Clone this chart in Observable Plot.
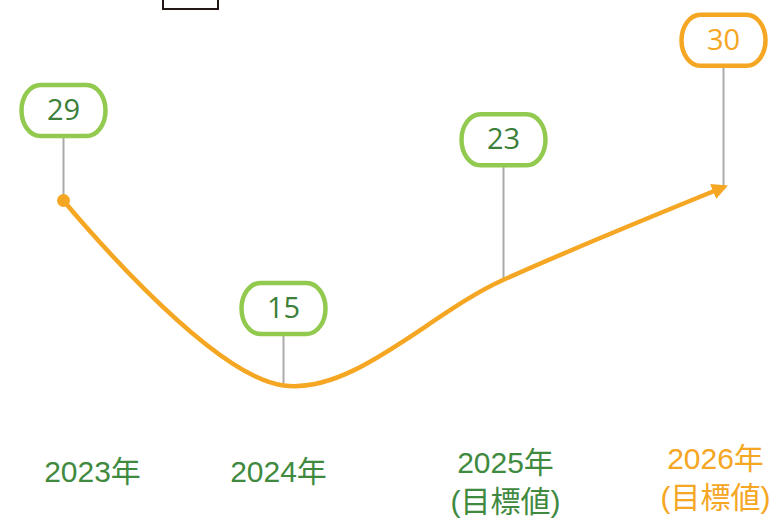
<!DOCTYPE html>
<html>
<head>
<meta charset="utf-8">
<script src="https://cdn.jsdelivr.net/npm/d3@7"></script>
<script src="https://cdn.jsdelivr.net/npm/@observablehq/plot@0.6"></script>
<style>
  html, body { margin: 0; padding: 0; background: #ffffff; }
  #wrap { position: relative; width: 779px; height: 518px; overflow: hidden; }
  #topbox { position: absolute; left: 162px; top: -22px; width: 53px; height: 28px; border: 2px solid #231815; }
</style>
</head>
<body>
<div id="wrap"><div id="topbox"></div></div>
<script>
// ---- data ----
const years = ["2023", "2024", "2025", "2026"];
const values = [29, 15, 23, 30];
const tickLine1 = ["2023年", "2024年", "2025年", "2026年"];
const tickLine2 = ["", "", "(目標値)", "(目標値)"];

// ---- layout / style config ----
const GREEN_BOX = "#92C94F";
const GREEN_TEXT = "#3B7F38";
const GREEN_TICK = "#3F8A3F";
const ORANGE = "#F5A623";
const GRAY = "#ABABAB";
const pxPerUnit = 13.214;
const yAt29 = 200;
const labelLiftPx = [90, 77, 140, 147];
const tickDx = [29, -5, 2, -8];
const tickDy = [469, 469, 480, 476];
const boxStroke = [GREEN_BOX, GREEN_BOX, GREEN_BOX, ORANGE];
const boxText = [GREEN_TEXT, GREEN_TEXT, GREEN_TEXT, ORANGE];
const tickColor = [GREEN_TICK, GREEN_TICK, GREEN_TICK, ORANGE];

const data = years.map((year, i) => ({
  year,
  value: values[i],
  labelY: values[i] + labelLiftPx[i] / pxPerUnit,
  i
}));

const yPx = v => yAt29 + (29 - v) * pxPerUnit;

// rounded "pill" box symbol with elliptical sides
const pill = {
  draw(context) {
    const hw = 42, hh = 25.5, rx = 19, k = 0.5523;
    context.moveTo(-hw + rx, -hh);
    context.lineTo(hw - rx, -hh);
    context.bezierCurveTo(hw - rx + rx * k, -hh, hw, -hh * k, hw, 0);
    context.bezierCurveTo(hw, hh * k, hw - rx + rx * k, hh, hw - rx, hh);
    context.lineTo(-hw + rx, hh);
    context.bezierCurveTo(-hw + rx - rx * k, hh, -hw, hh * k, -hw, 0);
    context.bezierCurveTo(-hw, -hh * k, -hw + rx - rx * k, -hh, -hw + rx, -hh);
    context.closePath();
  }
};

const tickMarks = years.map((year, i) =>
  Plot.text([i], {
    x: () => year,
    text: () => tickLine2[i] ? tickLine1[i] + "\n" + tickLine2[i] : tickLine1[i],
    frameAnchor: "top",
    lineAnchor: "middle",
    dx: tickDx[i],
    dy: tickDy[i],
    lineHeight: 1.3,
    fontSize: 30,
    fontFamily: "'Liberation Sans', 'Noto Sans CJK JP', sans-serif",
    fill: tickColor[i]
  })
);

const plot = Plot.plot({
  width: 779,
  height: 518,
  marginTop: 0, marginRight: 0, marginBottom: 0, marginLeft: 0,
  x: { type: "point", domain: years, range: [62, 724], padding: 0, axis: null },
  y: { domain: [0, 44], range: [yPx(0), yPx(44)], axis: null },
  color: { type: "identity" },
  marks: [
    Plot.ruleX(data, { x: "year", y1: "value", y2: "labelY", stroke: GRAY, strokeWidth: 2 }),
    Plot.line(data, { x: "year", y: "value", curve: "catmull-rom", stroke: ORANGE, strokeWidth: 4.5 }),
    Plot.dot([data[0]], { x: "year", y: "value", r: 6.5, fill: ORANGE }),
    Plot.dot(data, { x: "year", y: "labelY", symbol: pill, r: 10, fill: "white", stroke: d => boxStroke[d.i], strokeWidth: 4.5 }),
    Plot.text(data, { x: "year", y: "labelY", text: d => String(d.value), fontSize: 29, fontFamily: "'Open Sans', sans-serif", fill: d => boxText[d.i] }),
    ...tickMarks
  ]
});

// filled arrowhead at the end of the curve
const ns = "http://www.w3.org/2000/svg";
const defs = document.createElementNS(ns, "defs");
const marker = document.createElementNS(ns, "marker");
marker.setAttribute("id", "arrowHead");
marker.setAttribute("viewBox", "0 0 10 10");
marker.setAttribute("refX", "7");
marker.setAttribute("refY", "5");
marker.setAttribute("markerWidth", "16");
marker.setAttribute("markerHeight", "16");
marker.setAttribute("markerUnits", "userSpaceOnUse");
marker.setAttribute("orient", "auto");
const mp = document.createElementNS(ns, "path");
mp.setAttribute("d", "M0,0 L10,5 L0,10 z");
mp.setAttribute("fill", ORANGE);
marker.appendChild(mp);
defs.appendChild(marker);
plot.insertBefore(defs, plot.firstChild);
const linePath = plot.querySelector('g[aria-label="line"] path');
if (linePath) linePath.setAttribute("marker-end", "url(#arrowHead)");

document.getElementById("wrap").appendChild(plot);
</script>
</body>
</html>
